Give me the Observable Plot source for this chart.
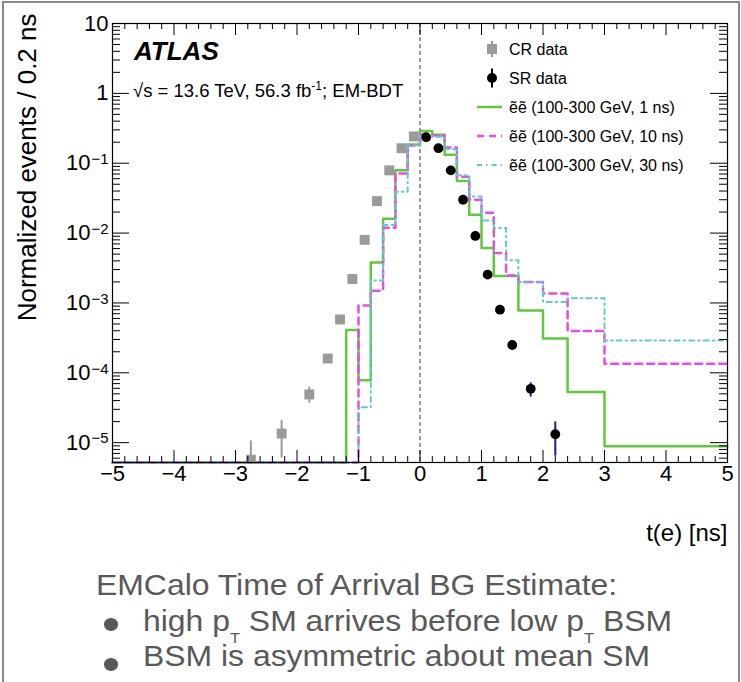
<!DOCTYPE html>
<html>
<head>
<meta charset="utf-8">
<script src="https://cdn.jsdelivr.net/npm/d3@7"></script>
<script src="https://cdn.jsdelivr.net/npm/@observablehq/plot@0.6"></script>
<style>
  html, body { margin: 0; padding: 0; background: #fff; }
  #wrap { position: relative; width: 741px; height: 682px; overflow: hidden; background: #fff; }
  #border { position: absolute; left: 2px; top: 1px; width: 738px; height: 720px; border: 2px solid #8a8a8a; box-sizing: border-box; }
  #chart { position: absolute; left: 0; top: 0; }
  .line { position: absolute; font-family: "Liberation Sans", Arial, sans-serif; font-size: 29px; line-height: 29px;
          color: #595959; white-space: nowrap; transform: scaleX(1.1); transform-origin: 0 0; }
  .sb { font-size: 15px; line-height: 1; vertical-align: -12px; }
  .bullet { position: absolute; width: 14px; height: 12.5px; border-radius: 50%; background: #595959; }
</style>
</head>
<body>
<div id="wrap">
  <div id="chart"></div>
  <div class="line" style="left:96px;top:570.5px">EMCalo Time of Arrival BG Estimate:</div>
  <div class="bullet" style="left:104px;top:618px"></div>
  <div class="line" style="left:143px;top:606.5px">high p<span class="sb">T</span> SM arrives before low p<span class="sb">T</span> BSM</div>
  <div class="bullet" style="left:104px;top:658px"></div>
  <div class="line" style="left:143px;top:641.5px">BSM is asymmetric about mean SM</div>
  <div id="border"></div>
</div>
<script>
// ---------------- data ----------------
// histogram bin edges (ns)
const edges = [-5, -1.2, -1.0, -0.8, -0.6, -0.4, -0.2, 0, 0.2, 0.4, 0.6, 0.8, 1.0, 1.2, 1.4, 1.6, 2.0, 2.4, 3.0, 5.0];
// signal histograms (one value per bin, 0 = empty bin)
const sig1ns  = [0, 4.1e-4, 7.8e-5, 3.8e-3, 0.016, 0.079, 0.185, 0.29, 0.255, 0.132, 0.0555, 0.0183, 6.1e-3, 2.43e-3, 2.43e-3, 7.8e-4, 3.1e-4, 5.3e-5, 8.9e-6];
const sig10ns = [0, 0, 9.2e-4, 1.5e-3, 0.0119, 0.071, 0.18, 0.258, 0.25, 0.168, 0.064, 0.030, 0.0195, 5.2e-3, 2.48e-3, 1.99e-3, 1.36e-3, 3.96e-4, 1.35e-4];
const sig30ns = [0, 0, 3.2e-5, 2.1e-3, 0.013, 0.039, 0.18, 0.25, 0.24, 0.158, 0.067, 0.0335, 0.0152, 0.0118, 4.07e-3, 1.98e-3, 1.03e-3, 1.17e-3, 2.9e-4];

// CR data
const crT     = [-2.75, -2.25, -1.8, -1.5, -1.3, -1.1, -0.9, -0.7, -0.5, -0.3, -0.1];
const crVal   = [5.7e-6, 1.35e-5, 4.9e-5, 1.6e-4, 5.8e-4, 2.2e-3, 8.0e-3, 0.0287, 0.079, 0.164, 0.242];
const crErrLo = [0, 6.0e-6, 3.66e-5, null, null, null, null, null, null, null, null];
const crErrHi = [1.06e-5, 2.09e-5, 6.2e-5, null, null, null, null, null, null, null, null];

// SR data
const srT     = [0.1, 0.3, 0.5, 0.7, 0.9, 1.1, 1.3, 1.5, 1.8, 2.2];
const srVal   = [0.236, 0.164, 0.079, 0.030, 9.1e-3, 2.54e-3, 8.0e-4, 2.5e-4, 5.9e-5, 1.32e-5];
const srErrLo = [null, null, null, null, null, null, null, null, 4.5e-5, 6.4e-6];
const srErrHi = [null, null, null, null, null, null, null, null, 7.2e-5, 1.98e-5];

// axes
const xMajor = [-5, -4, -3, -2, -1, 0, 1, 2, 3, 4, 5];
const yMajor = [1e-5, 1e-4, 1e-3, 1e-2, 1e-1, 1, 10];
const yBase  = ["10", "10", "10", "10", "10", "1", "10"];
const yExp   = ["\u22125", "\u22124", "\u22123", "\u22122", "\u22121", "", ""];

const legendLabels = ["CR data", "SR data",
  "ẽẽ (100-300 GeV, 1 ns)", "ẽẽ (100-300 GeV, 10 ns)", "ẽẽ (100-300 GeV, 30 ns)"];

// ---------------- styles ----------------
const FONT = '"Liberation Sans", Arial, Helvetica, sans-serif';
const GREEN = "#5fc93a", MAGENTA = "#e64de6", CYAN = "#62c9c9", GRAY = "#9a9a9a", NAVY = "#1c1c8a";
const W = 741, H = 560;
const mL = 112, mR = 14, mT = 23, mB = H - 462;
const FW = W - mL - mR, FH = H - mT - mB;
const yMin = 5.2e-6, yMax = 10;

// ---------------- derived tables ----------------
function steps(vals) {
  const pts = vals.map((v, i) => ({t: edges[i], v}));
  pts.push({t: edges[edges.length - 1], v: vals[vals.length - 1]});
  return pts;
}
const yDraw = d => (d.v > 0 ? d.v : yMin);
const cr = crT.map((t, i) => ({t, v: crVal[i], lo: crErrLo[i], hi: crErrHi[i]}));
const sr = srT.map((t, i) => ({t, v: srVal[i], lo: srErrLo[i], hi: srErrHi[i]}));
const xMinor = d3.range(-50, 51, 2).map(i => i / 10).filter(v => !Number.isInteger(v));
const yMinor = [];
for (let e = -6; e <= 0; e++) for (let k = 2; k <= 9; k++) {
  const v = k * Math.pow(10, e);
  if (v >= yMin && v <= yMax) yMinor.push(v);
}
const yLab = yMajor.map((v, i) => ({v, base: yBase[i], exp: yExp[i]}));

// ---------------- annotation / legend (render function) ----------------
function annotations(index, scales, values, dims) {
  const g = d3.create("svg:g").attr("font-family", FONT).attr("fill", "black").attr("text-anchor", "start");
  const L = dims.marginLeft, T = dims.marginTop;
  g.append("text").attr("x", L + 22).attr("y", T + 37)
    .attr("font-size", 26).attr("font-weight", "bold").attr("font-style", "italic").text("ATLAS");
  const s = g.append("text").attr("x", L + 21).attr("y", T + 74).attr("font-size", 18.5);
  s.append("tspan").text("\u221As = 13.6 TeV, 56.3 fb");
  s.append("tspan").attr("dy", -7).attr("font-size", 12).text("-1");
  s.append("tspan").attr("dy", 7).attr("font-size", 18.5).text("; EM-BDT");

  const mx = L + 380, lx0 = L + 365, lx1 = L + 390, tx = L + 397;
  legendLabels.forEach((lab, i) => {
    const y = T + 26 + 29 * i;
    if (i === 0) {
      g.append("line").attr("x1", mx).attr("x2", mx).attr("y1", y - 8).attr("y2", y + 8)
        .attr("stroke", GRAY).attr("stroke-width", 2);
      g.append("rect").attr("x", mx - 5).attr("y", y - 5).attr("width", 10).attr("height", 10).attr("fill", GRAY);
    } else if (i === 1) {
      g.append("line").attr("x1", mx).attr("x2", mx).attr("y1", y - 9.5).attr("y2", y + 9.5)
        .attr("stroke", "black").attr("stroke-width", 2);
      g.append("circle").attr("cx", mx).attr("cy", y).attr("r", 5).attr("fill", "black");
    } else {
      const st = [[GREEN, null, 2.5], [MAGENTA, "7,5", 2.5], [CYAN, "5,4,1.5,4", 2]][i - 2];
      const ln = g.append("line").attr("x1", lx0).attr("x2", lx1).attr("y1", y).attr("y2", y)
        .attr("stroke", st[0]).attr("stroke-width", st[2]);
      if (st[1]) ln.attr("stroke-dasharray", st[1]);
    }
    g.append("text").attr("x", tx).attr("y", y).attr("dy", "0.35em").attr("font-size", 16).text(lab);
  });
  return g.node();
}

// ---------------- plot ----------------
const chart = Plot.plot({
  width: W, height: H,
  marginLeft: mL, marginRight: mR, marginTop: mT, marginBottom: mB,
  style: {fontFamily: FONT, fontSize: "22px", background: "transparent", overflow: "visible"},
  x: {domain: [-5, 5], axis: null},
  y: {type: "log", domain: [yMin, yMax], axis: null},
  marks: [
    Plot.ruleX([0], {stroke: "#7a7a7a", strokeWidth: 1.5, strokeDasharray: "4,3"}),
    Plot.line(steps(sig1ns), {x: "t", y: yDraw, curve: "step-after", stroke: GREEN, strokeWidth: 2.5}),
    Plot.line(steps(sig10ns), {x: "t", y: yDraw, curve: "step-after", stroke: MAGENTA, strokeWidth: 2.5, strokeDasharray: "7,5"}),
    Plot.line(steps(sig30ns), {x: "t", y: yDraw, curve: "step-after", stroke: CYAN, strokeWidth: 2, strokeDasharray: "5,4,1.5,4"}),
    Plot.ruleX(cr.filter(d => d.hi != null), {x: "t", y1: d => Math.max(d.lo, yMin), y2: "hi", stroke: GRAY, strokeWidth: 2, clip: true}),
    Plot.dot(cr, {x: "t", y: "v", symbol: "square", r: 5.6, fill: GRAY, stroke: "none", clip: true}),
    Plot.ruleX(sr.filter(d => d.hi != null), {x: "t", y1: "lo", y2: "hi", stroke: NAVY, strokeWidth: 2, clip: true}),
    Plot.dot(sr, {x: "t", y: "v", r: 4.9, fill: "black", stroke: "none"}),
    Plot.frame({stroke: "black", strokeWidth: 1.2}),
    // x ticks (bottom & top, inward)
    Plot.tickX(xMajor, {x: d => d, insetTop: FH - 12, stroke: "black"}),
    Plot.tickX(xMinor, {x: d => d, insetTop: FH - 6, stroke: "black"}),
    Plot.tickX(xMajor, {x: d => d, insetBottom: FH - 12, stroke: "black"}),
    Plot.tickX(xMinor, {x: d => d, insetBottom: FH - 6, stroke: "black"}),
    // y ticks (left & right, inward)
    Plot.tickY(yMajor, {y: d => d, insetRight: FW - 17, stroke: "black"}),
    Plot.tickY(yMinor, {y: d => d, insetRight: FW - 8, stroke: "black"}),
    Plot.tickY(yMajor, {y: d => d, insetLeft: FW - 17, stroke: "black"}),
    Plot.tickY(yMinor, {y: d => d, insetLeft: FW - 8, stroke: "black"}),
    // tick labels
    Plot.text(xMajor, {x: d => d, frameAnchor: "bottom", lineAnchor: "top", dy: 3, fontSize: 22,
      text: d => (d < 0 ? "\u2212" + Math.abs(d) : String(d))}),
    Plot.text(yLab.filter(d => d.exp === ""), {y: "v", text: "base", frameAnchor: "left", textAnchor: "end", dx: -4, fontSize: 22}),
    Plot.text(yLab.filter(d => d.exp !== ""), {y: "v", text: "base", frameAnchor: "left", textAnchor: "end", dx: -22, fontSize: 22}),
    Plot.text(yLab.filter(d => d.exp !== ""), {y: "v", text: "exp", frameAnchor: "left", textAnchor: "start", dx: -21, dy: -4, fontSize: 15}),
    // axis titles
    Plot.text(["t(e) [ns]"], {frameAnchor: "bottom-right", textAnchor: "end", lineAnchor: "bottom", dy: 78, fontSize: 24}),
    Plot.text(["Normalized events / 0.2 ns"], {frameAnchor: "top-left", rotate: -90, textAnchor: "end", lineAnchor: "bottom",
      dx: -77, dy: -10, fontSize: 26}),
    annotations
  ]
});
document.getElementById("chart").appendChild(chart);
</script>
</body>
</html>
